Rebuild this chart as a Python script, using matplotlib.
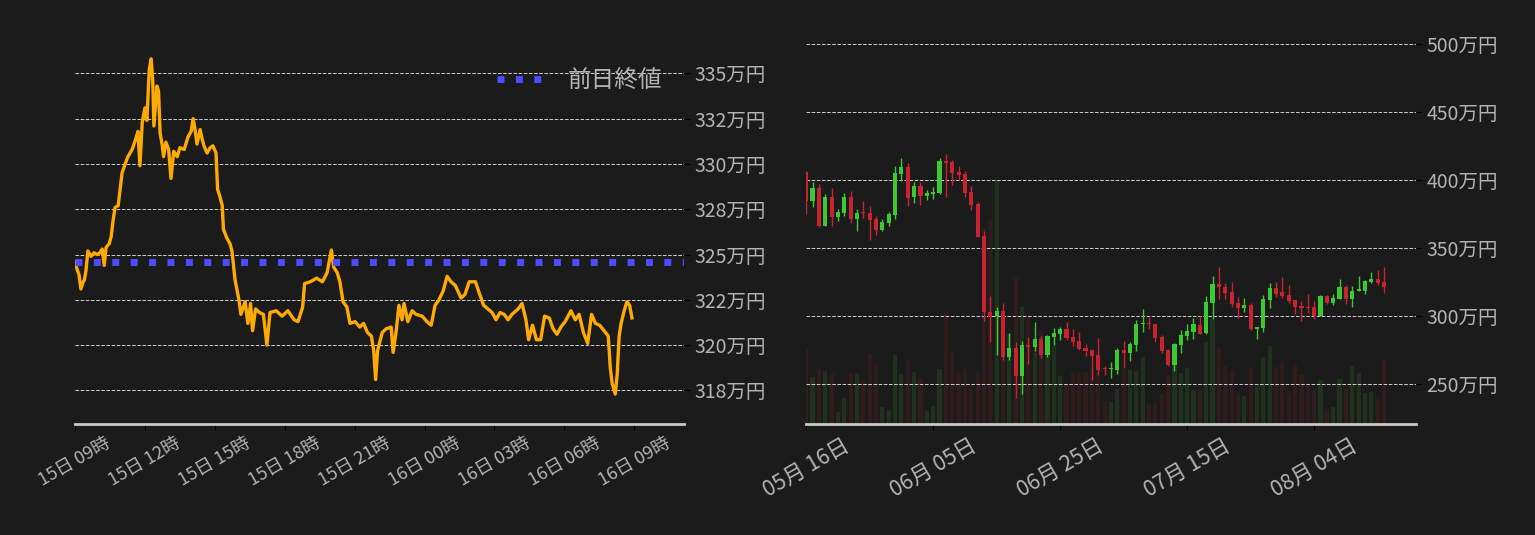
import matplotlib
matplotlib.use("Agg")
import matplotlib.pyplot as plt
import matplotlib.dates as mdates
import numpy as np
import pandas as pd

# ---------- intraday (前日終値 chart) ----------
start_time = pd.Timestamp("2022-08-15 09:00")
intraday_minutes = [
    0, 5, 10, 15, 21, 24, 28, 33, 41, 49, 57, 64, 70, 75, 80, 88, 93, 98, 103, 111,
    116, 121, 129, 136, 147, 155, 162, 167, 173, 180, 185, 191, 196, 200, 203, 211,
    215, 219, 224, 228, 234, 241, 247, 254, 263, 270, 281, 291, 299, 304, 309, 314,
    322, 327, 332, 340, 348, 355, 363, 367, 373, 379, 382, 391, 399, 404, 412, 422,
    427, 438, 445, 452, 457, 465, 475, 485, 494, 502, 518, 533, 548, 564, 574, 586,
    591, 606, 622, 637, 649, 655, 660, 666, 675, 682, 690, 700, 708, 721, 733, 743,
    753, 763, 769, 774, 779, 791, 801, 814, 819, 827, 834, 842, 847, 857, 868, 878,
    894, 906, 917, 927, 937, 948, 958, 968, 979, 994, 1004, 1015, 1031, 1042, 1052,
    1063, 1074, 1084, 1094, 1105, 1115, 1125, 1141, 1151, 1161, 1168, 1178, 1188,
    1199, 1209, 1221, 1231, 1241, 1251, 1262, 1277, 1288, 1298, 1309, 1320, 1330,
    1340, 1351, 1362, 1373, 1378, 1383, 1391, 1396, 1401, 1406, 1414, 1421, 1428, 1434,
]
intraday_price = [
    324.6, 324.2, 323.9, 323.1, 323.5, 323.6, 324.1, 325.2, 324.9, 325.1, 325.0, 325.1,
    325.3, 324.4, 325.4, 325.6, 326.0, 326.9, 327.6, 327.7, 328.6, 329.5, 330.0, 330.4,
    330.8, 331.3, 331.8, 329.9, 332.3, 333.1, 332.4, 335.2, 335.8, 334.6, 332.1, 334.3,
    334.0, 331.7, 331.1, 330.4, 331.2, 330.8, 329.2, 330.7, 330.4, 330.9, 330.8, 331.5,
    331.8, 332.5, 331.9, 331.1, 331.9, 331.4, 331.0, 330.6, 330.9, 331.0, 330.6, 328.6,
    328.2, 327.7, 326.4, 325.9, 325.6, 325.2, 323.6, 322.5, 321.7, 322.4, 321.2, 322.3,
    320.8, 322.0, 321.8, 321.7, 320.0, 321.8, 321.9, 321.6, 321.9, 321.4, 321.3, 322.1,
    323.4, 323.5, 323.7, 323.5, 324.0, 324.7, 325.25, 324.3, 324.0, 323.5, 322.4, 322.1,
    321.2, 321.3, 321.0, 321.2, 320.7, 320.5, 319.7, 318.1, 319.7, 320.7, 320.9, 321.0,
    319.6, 320.8, 322.2, 321.4, 322.3, 321.3, 321.9, 321.7, 321.6, 321.3, 321.1, 322.2,
    322.5, 323.0, 323.8, 323.5, 323.3, 322.6, 322.8, 323.5, 323.5, 322.8, 322.2, 322.0,
    321.8, 321.4, 321.8, 321.7, 321.4, 321.7, 322.0, 322.3, 321.4, 320.3, 321.1, 320.3,
    320.3, 321.6, 321.5, 320.9, 320.6, 321.0, 321.3, 321.9, 321.4, 321.7, 320.7, 320.1,
    321.7, 321.2, 321.1, 320.8, 320.5, 318.8, 317.9, 317.3, 318.4, 320.5, 321.2, 321.9,
    322.4, 322.2, 321.5,
]
prev_close = 324.6

# ---------- daily candles ----------
first_day = "2022-05-16"
opens = [
    406.1, 385.1, 394.4, 366.4, 387.8, 373.1, 376.0, 387.8, 371.6, 376.2, 376.0, 371.6,
    363.5, 368.7, 374.5, 404.7, 409.8, 387.8, 395.8, 388.5, 390.0, 390.7, 414.2, 413.5,
    406.1, 404.7, 391.4, 382.6, 359.1, 303.2, 300.3, 304.0, 270.2, 276.8, 256.2, 279.0,
    277.5, 283.4, 271.6, 284.9, 287.1, 290.7, 284.9, 281.9, 276.8, 275.3, 271.6, 261.4,
    261.0, 260.5, 275.3, 273.0, 278.9, 294.2, 294.6, 294.4, 284.8, 275.3, 264.2, 278.9,
    285.5, 288.5, 293.6, 287.7, 309.8, 323.8, 321.5, 317.9, 309.8, 306.1, 308.3, 290.7,
    291.4, 312.0, 320.8, 317.9, 315.7, 312.0, 307.6, 306.7, 306.9, 300.3, 314.9, 309.8,
    312.7, 321.5, 312.7, 318.6, 318.6, 325.2, 327.4, 325.2,
]
highs = [
    406.5, 398.5, 397.3, 390.0, 394.4, 378.7, 390.7, 392.2, 378.9, 384.8, 381.1, 373.8,
    371.6, 376.7, 410.5, 416.4, 412.7, 398.8, 398.8, 392.9, 395.1, 416.4, 419.4, 415.0,
    410.5, 406.9, 395.8, 384.1, 362.8, 315.0, 306.9, 309.8, 287.8, 281.2, 281.9, 284.9,
    295.9, 285.6, 286.3, 291.5, 292.2, 295.9, 290.7, 288.5, 279.7, 276.0, 284.1, 263.5,
    266.4, 276.7, 281.9, 281.1, 297.3, 305.4, 299.5, 294.4, 286.3, 276.0, 280.4, 290.0,
    294.4, 298.8, 300.2, 314.9, 329.6, 336.3, 324.5, 325.2, 314.2, 313.5, 309.8, 292.2,
    315.7, 324.5, 325.2, 328.9, 323.0, 312.0, 311.3, 316.4, 311.3, 315.7, 315.7, 316.4,
    327.4, 323.0, 322.3, 329.6, 326.7, 332.6, 334.1, 336.3,
]
lows = [
    375.3, 380.7, 365.7, 366.4, 366.4, 370.1, 373.8, 368.6, 362.8, 372.3, 356.2, 359.8,
    362.8, 366.4, 371.6, 399.5, 381.1, 383.3, 381.9, 385.6, 386.3, 390.0, 387.8, 396.6,
    400.0, 387.8, 378.2, 358.0, 296.6, 281.2, 271.6, 268.0, 268.0, 240.0, 243.0, 265.0,
    274.6, 269.4, 270.2, 279.0, 282.6, 282.6, 278.2, 275.3, 270.9, 253.3, 256.9, 256.9,
    254.7, 257.6, 262.0, 267.2, 274.5, 288.5, 290.7, 281.1, 273.0, 263.5, 259.8, 273.0,
    282.6, 283.3, 287.0, 287.0, 298.0, 312.7, 312.7, 306.9, 298.8, 303.2, 290.0, 283.3,
    288.5, 306.1, 314.2, 313.5, 309.8, 301.7, 296.6, 302.4, 298.0, 300.3, 309.1, 308.3,
    312.7, 309.1, 306.9, 318.6, 316.4, 324.5, 323.0, 317.1,
]
closes = [
    385.1, 394.4, 366.4, 387.8, 373.1, 376.7, 387.8, 371.6, 376.0, 375.8, 370.9, 363.5,
    369.4, 375.3, 405.4, 409.8, 387.0, 395.8, 388.5, 390.7, 391.4, 414.2, 412.7, 405.4,
    403.9, 390.7, 381.9, 358.4, 303.2, 299.6, 304.0, 270.2, 276.8, 256.2, 279.0, 277.5,
    283.4, 271.6, 285.6, 287.8, 290.7, 284.1, 281.2, 276.0, 274.6, 270.9, 260.6, 261.0,
    261.4, 275.3, 273.0, 279.7, 294.4, 294.6, 294.2, 284.1, 274.5, 264.2, 279.7, 286.3,
    289.2, 294.4, 287.0, 310.5, 323.8, 321.5, 317.1, 309.1, 306.1, 308.3, 290.7, 292.2,
    312.7, 320.8, 316.4, 314.9, 311.3, 306.9, 306.1, 306.3, 300.3, 314.9, 309.8, 313.5,
    321.5, 312.7, 318.6, 320.1, 326.0, 327.4, 324.5, 321.5,
]
volumes = [
    3000, 1880, 2200, 2120, 2000, 480, 1040, 2000, 2000, 1720, 2800, 2360, 680, 560,
    2760, 2000, 2560, 2080, 1840, 520, 720, 2200, 4480, 2920, 2080, 2200, 1520, 2120,
    7840, 8160, 9760, 4000, 3600, 5840, 4680, 4280, 2840, 3720, 2720, 3120, 1920, 1600,
    2080, 2040, 2080, 2280, 2880, 880, 880, 1400, 2160, 2160, 2120, 2680, 800, 840,
    1200, 1880, 2360, 2040, 2240, 1360, 1360, 3280, 4200, 3040, 2320, 2160, 1240, 1120,
    2240, 1520, 2640, 3120, 2280, 2520, 1240, 2360, 1960, 1560, 1320, 1760, 520, 680,
    1800, 1400, 2320, 2040, 1240, 1280, 1000, 2560,
]

BG = "#1b1b1b"
TXT = "#b4b4b4"
UP = "#3cc832"
DOWN = "#c8232f"

plt.rcParams["font.family"] = ["Noto Sans CJK JP", "DejaVu Sans"]

fig = plt.figure(figsize=(15.35, 5.35), dpi=100, facecolor=BG)


def style_axis(ax):
    ax.set_facecolor(BG)
    for side in ["top", "left", "right"]:
        ax.spines[side].set_visible(False)
    ax.spines["bottom"].set_color("#c8c8c8")
    ax.spines["bottom"].set_linewidth(2)
    ax.yaxis.tick_right()
    ax.tick_params(axis="both", colors="black", labelcolor=TXT, length=4)
    ax.grid(axis="y", linestyle="--", color="#cfcfcf", linewidth=0.7)
    ax.set_axisbelow(True)


# ---------- LEFT: intraday line ----------
ax1 = fig.add_axes([0.0489, 0.2075, 0.3967, 0.7177])
style_axis(ax1)
times = start_time + pd.to_timedelta(intraday_minutes, unit="min")
ax1.plot(times, intraday_price, color="#ffaa00", linewidth=2.4, zorder=3)
ax1.axhline(prev_close, color="#4d4dff", linestyle=":", linewidth=5,
            label="前日終値", zorder=4)
ax1.set_xlim(start_time, start_time + pd.Timedelta(minutes=1568))
ax1.set_ylim(315.65, 336.84)
yt = np.arange(317.5, 335.1, 2.5)
ax1.set_yticks(yt)
ax1.set_yticklabels([f"{v:.0f}万円" for v in yt], fontsize=14)
ax1.xaxis.set_major_locator(mdates.HourLocator(byhour=[0, 3, 6, 9, 12, 15, 18, 21]))
ax1.xaxis.set_major_formatter(mdates.DateFormatter("%d日 %H時"))
for lab in ax1.get_xticklabels():
    lab.set_rotation(30)
    lab.set_fontsize(13)
leg = ax1.legend(loc="upper right", frameon=False, fontsize=17,
                 handlelength=2.2, labelcolor=TXT,
                 bbox_to_anchor=(1.0, 0.98))

# ---------- RIGHT: daily candles + volume ----------
rect = [0.5252, 0.2075, 0.3971, 0.7177]
days = pd.date_range(first_day, periods=len(opens), freq="D")
o = np.array(opens)
c = np.array(closes)
colors = [UP if cc >= oo else DOWN for oo, cc in zip(o, c)]

axv = fig.add_axes(rect, zorder=0)
axv.set_facecolor(BG)
axv.bar(days, volumes, width=0.65, color=colors, alpha=0.12)
axv.set_ylim(0, 15360)
axv.axis("off")

ax2 = fig.add_axes(rect, zorder=1)
style_axis(ax2)
ax2.patch.set_visible(False)
ax2.vlines(days, lows, highs, colors=colors, linewidth=1.0, zorder=3)
body_low = np.minimum(o, c)
body_h = np.maximum(np.abs(c - o), 0.8)
ax2.bar(days, body_h, bottom=body_low, width=0.65, color=colors, zorder=4)
xl = (pd.Timestamp(first_day), pd.Timestamp("2022-08-20"))
ax2.set_xlim(*xl)
axv.set_xlim(*xl)
ax2.set_ylim(220.8, 503.2)
yt2 = np.arange(250, 501, 50)
ax2.set_yticks(yt2)
ax2.set_yticklabels([f"{v}万円" for v in yt2], fontsize=14)
ax2.set_xticks(pd.date_range(first_day, periods=5, freq="20D"))
ax2.xaxis.set_major_formatter(mdates.DateFormatter("%m月 %d日"))
for lab in ax2.get_xticklabels():
    lab.set_rotation(30)
    lab.set_fontsize(15.5)

fig.savefig("out.png", dpi=100, facecolor=BG)
